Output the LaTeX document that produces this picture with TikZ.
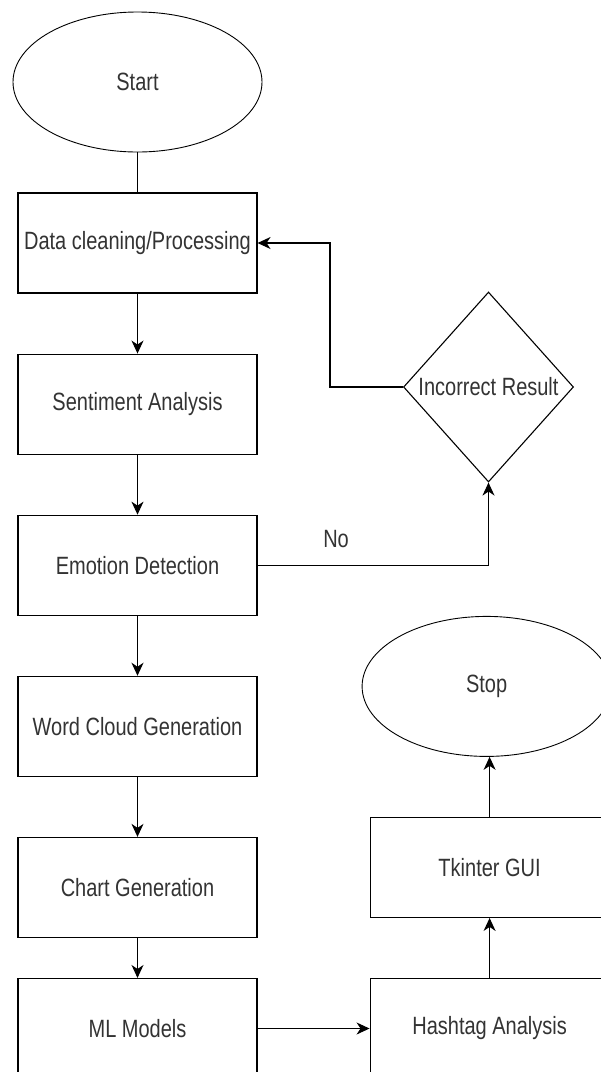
\documentclass[tikz,border=0pt]{standalone}
\usepackage{fontspec}
\setmainfont{Liberation Sans}[FakeStretch=0.8]
\usepackage{tikz}
\usetikzlibrary{arrows.meta, positioning, shapes.geometric}

\begin{document}
\begin{tikzpicture}[
    x=1pt, y=-1pt,
    line width=1.1pt,
    node distance=60pt and 112pt,
    block/.style={draw, minimum width=239pt, minimum height=100pt, inner sep=2pt,
                  align=center, text=black!80, font=\fontsize{25}{28}\selectfont},
    term/.style={draw, ellipse, minimum width=249pt, minimum height=140pt, inner sep=0pt,
                 line width=0.9pt, text=black!80, font=\fontsize{25}{28}\selectfont},
    decision/.style={draw, diamond, minimum width=170pt, minimum height=190pt, inner sep=0pt},
    arrow/.style={-{Stealth[length=13pt, width=12pt, inset=4pt]}},
]
    \useasboundingbox (0,0) rectangle (601,1072);

    % Left column
    \node[term] (start) at (137.5,82) {Start};
    \node[block, below=40pt of start] (clean) {Data cleaning/Processing};
    \node[block, below=of clean] (senti) {Sentiment Analysis};
    \node[block, below=of senti] (emo)   {Emotion Detection};
    \node[block, below=of emo]   (cloud) {Word Cloud Generation};
    \node[block, below=of cloud] (chart) {Chart Generation};
    \node[block, below=40pt of chart] (ml) {ML Models};

    % Right column
    \node[block, right=of ml]  (hash) {Hashtag Analysis};
    \node[block, above=of hash] (gui) {Tkinter GUI};
    \node[term, above=of gui, xshift=-3pt] (stop) {Stop};

    % Check
    \node[decision, label={[text=black!80, font=\fontsize{25}{28}\selectfont]center:Incorrect Result}] (check) at (488.5,387) {};

    % Arrows
    \draw (start) -- (clean);
    \draw[arrow] (clean) -- (senti);
    \draw[arrow] (senti) -- (emo);
    \draw[arrow] (emo) -- (cloud);
    \draw[arrow] (cloud) -- (chart);
    \draw[arrow] (chart) -- (ml);
    \draw[arrow] (ml) -- (hash);
    \draw[arrow] (hash) -- (gui);
    \draw[arrow] (gui) -- (stop.south -| gui);
    \draw[arrow] (emo.east) -| node[pos=0.17, above=14pt, text=black!80,
        font=\fontsize{25}{28}\selectfont] {No} (check.south);
    \draw[arrow] (check.west) -- ++(-73,0) |- (clean.east);
\end{tikzpicture}
\end{document}
